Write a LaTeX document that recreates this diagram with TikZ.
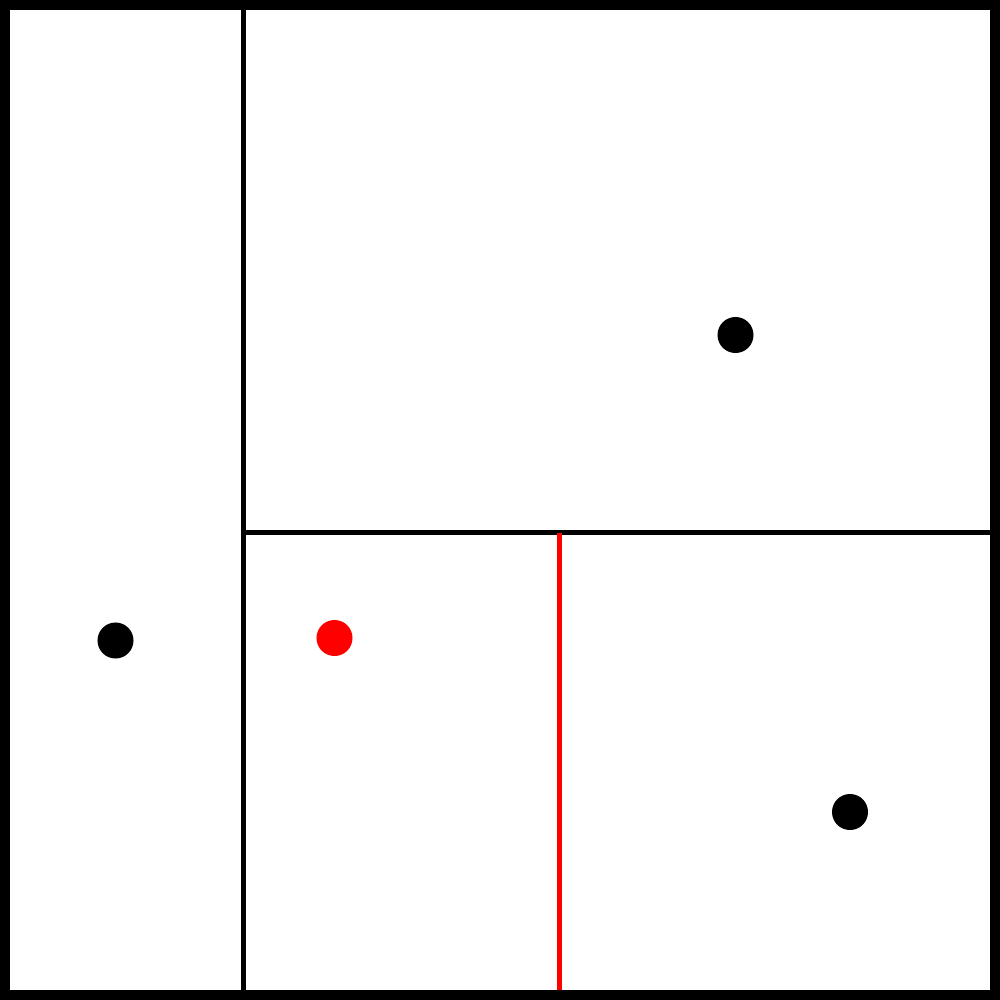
\documentclass[tikz,border=0pt]{standalone}
\begin{document}
\begin{tikzpicture}[x=0.01cm,y=-0.01cm,
  frame/.style={draw=black,line width=2.845pt},
  divider/.style={draw=black,line width=1.3pt},
  reddivider/.style={draw=red,line width=1.2pt},
  dot/.style={circle,fill=black,inner sep=0pt,minimum size=0.36cm},
  reddot/.style={circle,fill=red,inner sep=0pt,minimum size=0.36cm}]
\useasboundingbox (0,0) rectangle (1000,1000);
\fill[white] (0,0) rectangle (1000,1000);
\coordinate (vtop) at (243.5,10);
\coordinate (vbot) at (243.5,990);
\coordinate (hl) at (243.5,532.5);
\coordinate (hr) at (990,532.5);
\coordinate (rtop) at (559.5,532.5);
\coordinate (rbot) at (559.5,990);
\draw[divider] (vtop) -- (vbot);
\draw[divider] (hl) -- (hr);
\draw[reddivider] (rtop) -- (rbot);
\draw[frame] (5,5) rectangle (995,995);
\node[dot] (p1) at (115.5,640.5) {};
\node[dot] (p2) at (735.5,335) {};
\node[dot] (p3) at (850,812) {};
\node[reddot] (q) at (334.5,638) {};
\end{tikzpicture}
\end{document}
